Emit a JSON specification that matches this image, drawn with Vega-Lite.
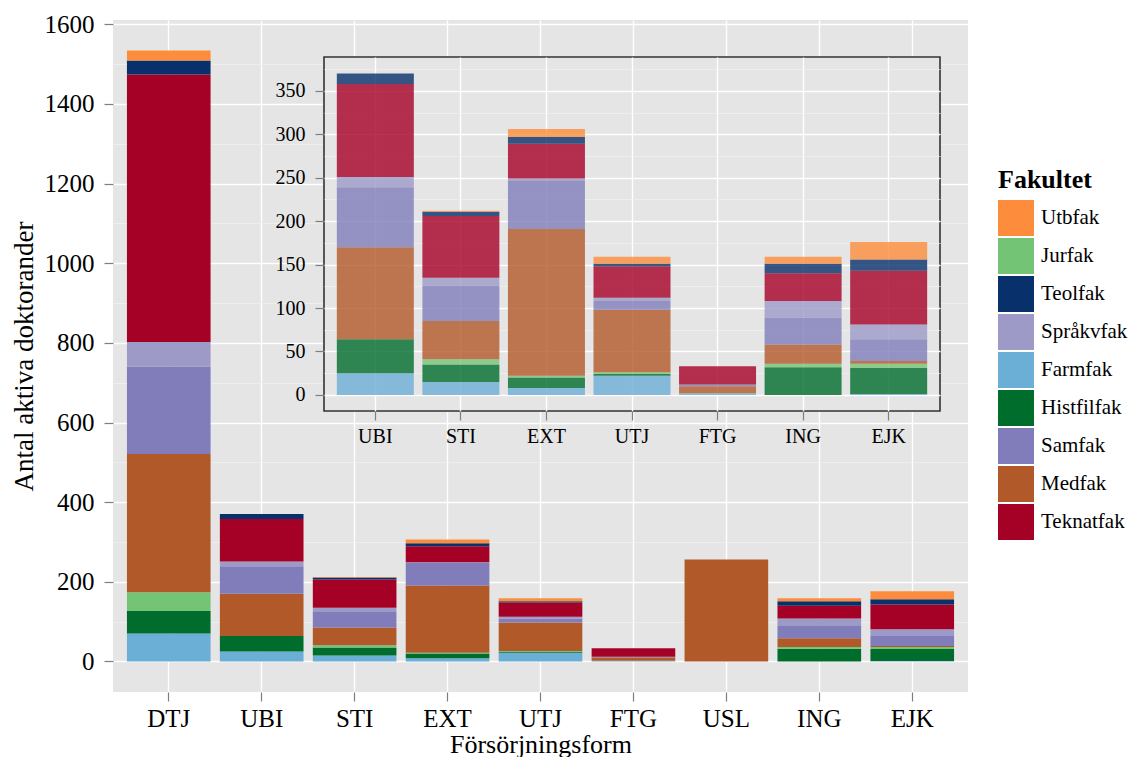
{
  "$schema": "https://vega.github.io/schema/vega-lite/v6.json",
  "padding": {"left": 10, "top": 12, "right": 0, "bottom": 0},
  "data": {"values": [
    {"Form": "DTJ", "Fakultet": "Farmfak", "Antal": 70},
    {"Form": "DTJ", "Fakultet": "Histfilfak", "Antal": 57},
    {"Form": "DTJ", "Fakultet": "Jurfak", "Antal": 47},
    {"Form": "DTJ", "Fakultet": "Medfak", "Antal": 347},
    {"Form": "DTJ", "Fakultet": "Samfak", "Antal": 219},
    {"Form": "DTJ", "Fakultet": "Språkvfak", "Antal": 62},
    {"Form": "DTJ", "Fakultet": "Teknatfak", "Antal": 672},
    {"Form": "DTJ", "Fakultet": "Teolfak", "Antal": 35},
    {"Form": "DTJ", "Fakultet": "Utbfak", "Antal": 25},
    {"Form": "UBI", "Fakultet": "Farmfak", "Antal": 25},
    {"Form": "UBI", "Fakultet": "Histfilfak", "Antal": 39},
    {"Form": "UBI", "Fakultet": "Medfak", "Antal": 106},
    {"Form": "UBI", "Fakultet": "Samfak", "Antal": 69},
    {"Form": "UBI", "Fakultet": "Språkvfak", "Antal": 12},
    {"Form": "UBI", "Fakultet": "Teknatfak", "Antal": 107},
    {"Form": "UBI", "Fakultet": "Teolfak", "Antal": 12},
    {"Form": "STI", "Fakultet": "Farmfak", "Antal": 15},
    {"Form": "STI", "Fakultet": "Histfilfak", "Antal": 20},
    {"Form": "STI", "Fakultet": "Jurfak", "Antal": 6},
    {"Form": "STI", "Fakultet": "Medfak", "Antal": 44},
    {"Form": "STI", "Fakultet": "Samfak", "Antal": 41},
    {"Form": "STI", "Fakultet": "Språkvfak", "Antal": 9},
    {"Form": "STI", "Fakultet": "Teknatfak", "Antal": 71},
    {"Form": "STI", "Fakultet": "Teolfak", "Antal": 5},
    {"Form": "STI", "Fakultet": "Utbfak", "Antal": 1},
    {"Form": "EXT", "Fakultet": "Farmfak", "Antal": 8},
    {"Form": "EXT", "Fakultet": "Histfilfak", "Antal": 12},
    {"Form": "EXT", "Fakultet": "Jurfak", "Antal": 2},
    {"Form": "EXT", "Fakultet": "Medfak", "Antal": 169},
    {"Form": "EXT", "Fakultet": "Samfak", "Antal": 56},
    {"Form": "EXT", "Fakultet": "Språkvfak", "Antal": 2},
    {"Form": "EXT", "Fakultet": "Teknatfak", "Antal": 40},
    {"Form": "EXT", "Fakultet": "Teolfak", "Antal": 8},
    {"Form": "EXT", "Fakultet": "Utbfak", "Antal": 9},
    {"Form": "UTJ", "Fakultet": "Farmfak", "Antal": 22},
    {"Form": "UTJ", "Fakultet": "Histfilfak", "Antal": 2},
    {"Form": "UTJ", "Fakultet": "Jurfak", "Antal": 2},
    {"Form": "UTJ", "Fakultet": "Medfak", "Antal": 72},
    {"Form": "UTJ", "Fakultet": "Samfak", "Antal": 10},
    {"Form": "UTJ", "Fakultet": "Språkvfak", "Antal": 4},
    {"Form": "UTJ", "Fakultet": "Teknatfak", "Antal": 36},
    {"Form": "UTJ", "Fakultet": "Teolfak", "Antal": 3},
    {"Form": "UTJ", "Fakultet": "Utbfak", "Antal": 8},
    {"Form": "FTG", "Fakultet": "Farmfak", "Antal": 2},
    {"Form": "FTG", "Fakultet": "Medfak", "Antal": 8},
    {"Form": "FTG", "Fakultet": "Samfak", "Antal": 2},
    {"Form": "FTG", "Fakultet": "Teknatfak", "Antal": 21},
    {"Form": "USL", "Fakultet": "Medfak", "Antal": 256},
    {"Form": "ING", "Fakultet": "Histfilfak", "Antal": 32},
    {"Form": "ING", "Fakultet": "Jurfak", "Antal": 4},
    {"Form": "ING", "Fakultet": "Medfak", "Antal": 22},
    {"Form": "ING", "Fakultet": "Samfak", "Antal": 31},
    {"Form": "ING", "Fakultet": "Språkvfak", "Antal": 19},
    {"Form": "ING", "Fakultet": "Teknatfak", "Antal": 32},
    {"Form": "ING", "Fakultet": "Teolfak", "Antal": 11},
    {"Form": "ING", "Fakultet": "Utbfak", "Antal": 8},
    {"Form": "EJK", "Fakultet": "Farmfak", "Antal": 1},
    {"Form": "EJK", "Fakultet": "Histfilfak", "Antal": 30},
    {"Form": "EJK", "Fakultet": "Jurfak", "Antal": 5},
    {"Form": "EJK", "Fakultet": "Medfak", "Antal": 3},
    {"Form": "EJK", "Fakultet": "Samfak", "Antal": 25},
    {"Form": "EJK", "Fakultet": "Språkvfak", "Antal": 17},
    {"Form": "EJK", "Fakultet": "Teknatfak", "Antal": 62},
    {"Form": "EJK", "Fakultet": "Teolfak", "Antal": 13},
    {"Form": "EJK", "Fakultet": "Utbfak", "Antal": 20}
  ]},
  "config": {
    "font": "Liberation Serif, DejaVu Serif, serif",
    "view": {"stroke": null},
    "axis": {
      "domain": false,
      "tickColor": "#7F7F7F",
      "tickWidth": 1.2,
      "tickSize": 9,
      "labelColor": "#000000",
      "titleColor": "#000000",
      "titleFontWeight": "normal",
      "gridColor": "#FFFFFF",
      "gridWidth": 1.4
    }
  },
  "columns": 1,
  "align": "none",
  "bounds": "flush",
  "spacing": -635,
  "concat": [
    {
      "width": 855,
      "height": 672,
      "view": {"fill": "#E5E5E5", "stroke": null},
      "resolve": {"scale": {"y": "shared"}, "axis": {"y": "independent"}},
      "layer": [
        {
          "mark": {"type": "point", "opacity": 0},
          "encoding": {
            "y": {
              "field": "Antal", "type": "quantitative",
              "scale": {"domain": [-76.7, 1610.7], "nice": false, "zero": false},
              "axis": {"orient": "left", "values": [100, 300, 500, 700, 900, 1100, 1300, 1500], "grid": true, "gridColor": "#F2F2F2", "gridWidth": 0.7, "labels": false, "ticks": false, "domain": false, "title": null}
            }
          }
        },
        {
          "mark": {"type": "bar"},
          "encoding": {
            "x": {
              "field": "Form", "type": "nominal",
              "scale": {"domain": ["DTJ", "UBI", "STI", "EXT", "UTJ", "FTG", "USL", "ING", "EJK"], "paddingInner": 0.1, "paddingOuter": 0.15},
              "axis": {"title": "Försörjningsform", "labelAngle": 0, "labelFontSize": 25, "titleFontSize": 26, "labelPadding": 5, "titlePadding": 0, "grid": true}
            },
            "y": {
              "field": "Antal", "type": "quantitative", "stack": "zero",
              "scale": {"domain": [-76.7, 1610.7], "nice": false, "zero": false},
              "axis": {"orient": "left", "title": "Antal aktiva doktorander", "values": [0, 200, 400, 600, 800, 1000, 1200, 1400, 1600], "format": "d", "grid": true, "labelFontSize": 25, "titleFontSize": 27, "labelPadding": 10, "titlePadding": 6}
            },
            "color": {
              "field": "Fakultet", "type": "nominal",
              "scale": {
                "domain": ["Utbfak", "Jurfak", "Teolfak", "Språkvfak", "Farmfak", "Histfilfak", "Samfak", "Medfak", "Teknatfak"],
                "range": ["#FD8D3C", "#74C476", "#08306B", "#9E9AC8", "#6BAED6", "#006D2C", "#807DBA", "#B15928", "#A50026"]
              },
              "legend": {
                "title": "Fakultet", "orient": "none", "legendX": 885, "legendY": 147,
                "titleFontSize": 26, "titleFontWeight": "bold", "titleColor": "#000000", "titlePadding": 7,
                "labelFontSize": 21, "labelColor": "#000000", "labelOffset": 7,
                "symbolType": "square", "symbolSize": 1296, "symbolStrokeWidth": 0, "symbolOpacity": 1,
                "rowPadding": 2
              }
            },
            "order": {"field": "Fakultet", "sort": "ascending"}
          }
        }
      ]
    },
    {
      "columns": 2,
      "align": "none",
      "bounds": "flush",
      "spacing": 210,
      "concat": [
        {
          "width": 1, "height": 1,
          "data": {"values": []},
          "mark": {"type": "point", "opacity": 0},
          "encoding": {}
        },
        {
          "width": 616,
          "height": 354,
          "view": {"fill": "#E5E5E5", "stroke": "#333333", "strokeWidth": 1.6},
          "transform": [{"filter": "datum.Form != 'DTJ' && datum.Form != 'USL'"}],
          "resolve": {"scale": {"y": "shared"}, "axis": {"y": "independent"}},
          "layer": [
            {
              "mark": {"type": "point", "opacity": 0},
              "encoding": {
                "y": {
                  "field": "Antal", "type": "quantitative",
                  "scale": {"domain": [-18.5, 389], "nice": false, "zero": false},
                  "axis": {"orient": "left", "values": [25, 75, 125, 175, 225, 275, 325, 375], "grid": true, "gridColor": "#F2F2F2", "gridWidth": 0.7, "labels": false, "ticks": false, "domain": false, "title": null}
                }
              }
            },
            {
              "mark": {"type": "bar", "opacity": 0.8},
              "encoding": {
                "x": {
                  "field": "Form", "type": "nominal",
                  "scale": {"domain": ["UBI", "STI", "EXT", "UTJ", "FTG", "ING", "EJK"], "paddingInner": 0.1, "paddingOuter": 0.15},
                  "axis": {"title": null, "labelAngle": 0, "labelFontSize": 20, "labelPadding": 6, "grid": true}
                },
                "y": {
                  "field": "Antal", "type": "quantitative", "stack": "zero",
                  "scale": {"domain": [-18.5, 389], "nice": false, "zero": false},
                  "axis": {"orient": "left", "title": null, "values": [0, 50, 100, 150, 200, 250, 300, 350], "grid": true, "labelFontSize": 20, "labelPadding": 10}
                },
                "color": {
                  "field": "Fakultet", "type": "nominal",
                  "scale": {
                    "domain": ["Utbfak", "Jurfak", "Teolfak", "Språkvfak", "Farmfak", "Histfilfak", "Samfak", "Medfak", "Teknatfak"],
                    "range": ["#FD8D3C", "#74C476", "#08306B", "#9E9AC8", "#6BAED6", "#006D2C", "#807DBA", "#B15928", "#A50026"]
                  },
                  "legend": {
                    "title": "Fakultet", "orient": "none", "legendX": 885, "legendY": 147,
                    "titleFontSize": 26, "titleFontWeight": "bold", "titleColor": "#000000", "titlePadding": 7,
                    "labelFontSize": 21, "labelColor": "#000000", "labelOffset": 7,
                    "symbolType": "square", "symbolSize": 1296, "symbolStrokeWidth": 0, "symbolOpacity": 1,
                    "rowPadding": 2
                  }
                },
                "order": {"field": "Fakultet", "sort": "ascending"}
              }
            }
          ]
        }
      ]
    }
  ]
}
